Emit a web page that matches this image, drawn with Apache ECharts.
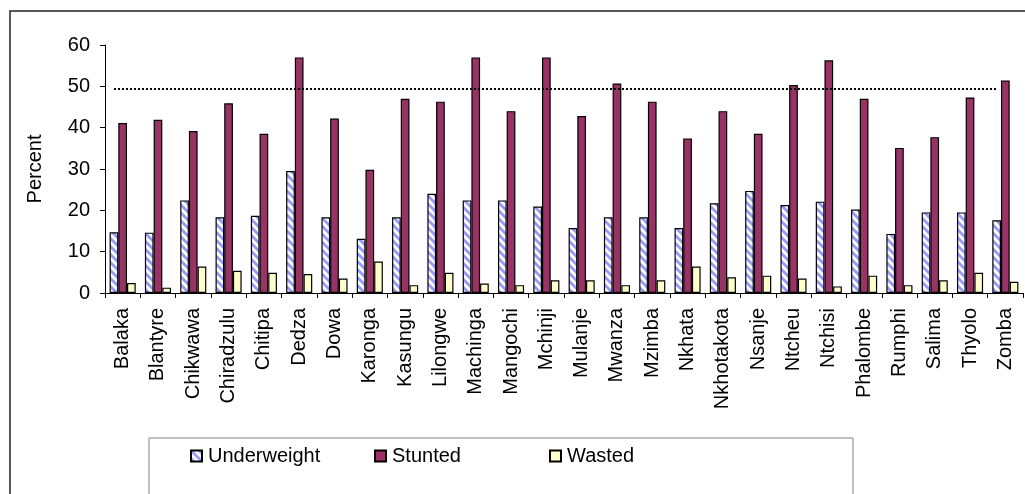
<!DOCTYPE html>
<html>
<head>
<meta charset="utf-8">
<script src="https://cdn.jsdelivr.net/npm/echarts@6/dist/echarts.min.js"></script>
<style>
html,body{margin:0;padding:0;background:#fff;}
#chart{width:1025px;height:494px;}
</style>
</head>
<body>
<div id="chart"></div>
<script>
const categories = ['Balaka','Blantyre','Chikwawa','Chiradzulu','Chitipa','Dedza','Dowa','Karonga','Kasungu','Lilongwe','Machinga','Mangochi','Mchinji','Mulanje','Mwanza','Mzimba','Nkhata','Nkhotakota','Nsanje','Ntcheu','Ntchisi','Phalombe','Rumphi','Salima','Thyolo','Zomba'];
const underweight = [14.7, 14.6, 22.4, 18.3, 18.7, 29.5, 18.3, 13.1, 18.3, 24.0, 22.4, 22.4, 20.9, 15.7, 18.3, 18.3, 15.7, 21.7, 24.7, 21.3, 22.1, 20.2, 14.3, 19.5, 19.5, 17.6];
const stunted = [41.1, 41.9, 39.2, 45.9, 38.5, 57.0, 42.2, 29.8, 47.0, 46.3, 57.0, 44.0, 57.0, 42.8, 50.7, 46.3, 37.4, 44.0, 38.5, 50.3, 56.3, 47.0, 35.1, 37.7, 47.3, 51.4];
const wasted = [2.4, 1.3, 6.4, 5.4, 4.9, 4.6, 3.5, 7.6, 1.9, 4.9, 2.3, 1.9, 3.1, 3.1, 1.9, 3.1, 6.4, 3.8, 4.2, 3.5, 1.6, 4.2, 1.9, 3.1, 4.9, 2.7];
const seriesNames = ['Underweight', 'Stunted', 'Wasted'];
const yTicks = [0, 10, 20, 30, 40, 50, 60];
const referenceLevel = 49.5;
const yAxisTitle = 'Percent';

// striped pattern for Underweight
const pat = document.createElement('canvas');
pat.width = 8; pat.height = 8;
const pc = pat.getContext('2d');
pc.fillStyle = '#ffffff';
pc.fillRect(0, 0, 8, 8);
pc.strokeStyle = '#9898f8';
pc.lineWidth = 2.8;
pc.beginPath();
pc.moveTo(-2, -2); pc.lineTo(10, 10);
pc.moveTo(-10, -2); pc.lineTo(2, 10);
pc.moveTo(6, -2); pc.lineTo(18, 10);
pc.stroke();

const FONT = 'Liberation Sans, Arial, sans-serif';
const chart = echarts.init(document.getElementById('chart'), null, {renderer: 'canvas'});

function legendAt(name, left) {
  return {
    data: [name], left: left, top: 446, padding: 0,
    itemWidth: 11, itemHeight: 11, itemGap: 0,
    icon: 'rect', selectedMode: false,
    textStyle: {fontFamily: FONT, fontSize: 20, color: '#000', padding: [0,0,0,1]}
  };
}

const option = {
  animation: false,
  backgroundColor: '#fff',
  graphic: [
    {type: 'rect', silent: true, shape: {x: 10, y: 11, width: 1100, height: 600},
     style: {fill: 'none', stroke: '#222', lineWidth: 1.5}},
    {type: 'rect', silent: true, shape: {x: 149, y: 438, width: 704, height: 100},
     style: {fill: 'none', stroke: '#808080', lineWidth: 1}}
  ],
  legend: [
    legendAt(seriesNames[0], 190),
    legendAt(seriesNames[1], 374),
    legendAt(seriesNames[2], 549)
  ],
  grid: {left: 105, top: 45, right: 2, bottom: 201, containLabel: false},
  xAxis: {
    type: 'category', data: categories, boundaryGap: true,
    axisLine: {lineStyle: {color: '#000', width: 1}},
    axisTick: {show: true, length: 5, lineStyle: {color: '#000'}},
    axisLabel: {rotate: 90, margin: 15, fontFamily: FONT, fontSize: 20, color: '#000', interval: 0},
    splitLine: {show: false}
  },
  yAxis: {
    type: 'value', min: yTicks[0], max: yTicks[yTicks.length - 1], interval: 10,
    name: yAxisTitle, nameLocation: 'middle', nameGap: 60, nameRotate: 90,
    nameTextStyle: {fontFamily: FONT, fontSize: 20, color: '#000'},
    axisLine: {show: true, lineStyle: {color: '#000', width: 1}},
    axisTick: {show: true, length: 5, lineStyle: {color: '#000'}},
    axisLabel: {margin: 15, fontFamily: FONT, fontSize: 20, color: '#000'},
    splitLine: {show: false}
  },
  series: [
    {
      name: seriesNames[0], type: 'bar', data: underweight, barWidth: 8.7, barGap: '0%',
      itemStyle: {color: {image: pat, repeat: 'repeat'}, borderColor: '#000', borderWidth: 1.2},
      markLine: {
        silent: true, symbol: ['none', 'none'], label: {show: false},
        lineStyle: {type: [2, 2], color: '#000', width: 2.2},
        data: [[{coord: [0, referenceLevel]}, {coord: [categories.length - 1, referenceLevel]}]]
      }
    },
    {
      name: seriesNames[1], type: 'bar', data: stunted, barWidth: 8.7, barGap: '0%',
      itemStyle: {color: '#993366', borderColor: '#000', borderWidth: 1.2}
    },
    {
      name: seriesNames[2], type: 'bar', data: wasted, barWidth: 8.7, barGap: '0%',
      itemStyle: {color: '#ffffcc', borderColor: '#000', borderWidth: 1.2}
    }
  ]
};
chart.setOption(option);
</script>
</body>
</html>
